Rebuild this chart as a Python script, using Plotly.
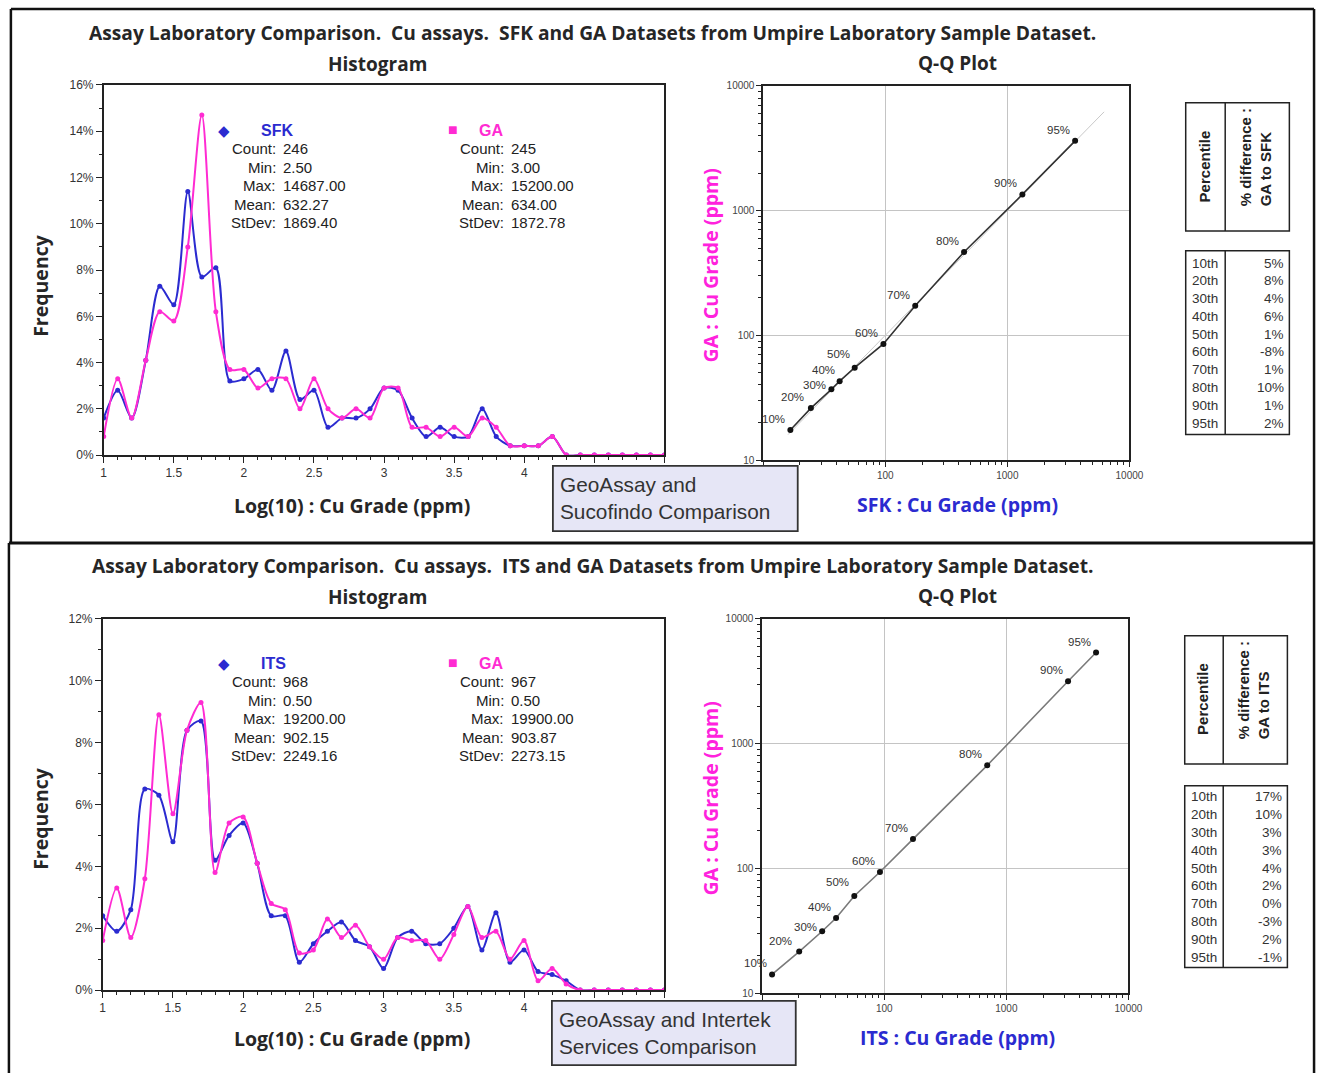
import math
import plotly.graph_objects as go

W, H = 1332, 1080

# ---------------- DATA ----------------
log_bins = [1.0, 1.1, 1.2, 1.3, 1.4, 1.5, 1.6, 1.7, 1.8, 1.9, 2.0, 2.1, 2.2, 2.3, 2.4, 2.5,
            2.6, 2.7, 2.8, 2.9, 3.0, 3.1, 3.2, 3.3, 3.4, 3.5, 3.6, 3.7, 3.8, 3.9, 4.0, 4.1,
            4.2, 4.3, 4.4, 4.5, 4.6, 4.7, 4.8, 4.9, 5.0]

sfk_freq = [1.6, 2.8, 1.6, 4.1, 7.3, 6.5, 11.4, 7.7, 8.1, 3.2, 3.3, 3.7, 2.8, 4.5, 2.4, 2.8,
            1.2, 1.6, 1.6, 2.0, 2.9, 2.8, 1.6, 0.8, 1.2, 0.8, 0.8, 2.0, 0.8, 0.4, 0.4, 0.4,
            0.8, 0, 0, 0, 0, 0, 0, 0, 0]
ga1_freq = [0.8, 3.3, 1.6, 4.1, 6.2, 5.8, 9.0, 14.7, 6.2, 3.7, 3.7, 2.9, 3.3, 3.3, 2.0, 3.3,
            2.0, 1.6, 2.0, 1.6, 2.9, 2.9, 1.2, 1.2, 0.8, 1.2, 0.8, 1.6, 1.2, 0.4, 0.4, 0.4,
            0.8, 0, 0, 0, 0, 0, 0, 0, 0]

its_freq = [2.4, 1.9, 2.6, 6.5, 6.3, 4.8, 8.4, 8.7, 4.2, 5.0, 5.4, 4.1, 2.4, 2.4, 0.9, 1.5,
            1.9, 2.2, 1.6, 1.4, 0.7, 1.7, 1.9, 1.5, 1.5, 2.0, 2.7, 1.3, 2.5, 0.9, 1.3, 0.6,
            0.5, 0.3, 0, 0, 0, 0, 0, 0, 0]
ga2_freq = [1.6, 3.3, 1.7, 3.6, 8.9, 5.7, 8.4, 9.3, 3.8, 5.4, 5.6, 4.1, 2.8, 2.6, 1.2, 1.3,
            2.3, 1.7, 2.1, 1.4, 1.0, 1.7, 1.6, 1.6, 1.0, 1.8, 2.7, 1.7, 1.9, 1.0, 1.6, 0.3,
            0.7, 0.2, 0, 0, 0, 0, 0, 0, 0]

pct_labels = ["10%", "20%", "30%", "40%", "50%", "60%", "70%", "80%", "90%", "95%"]
qq1_sfk = [16.7, 24.6, 36.2, 42.3, 56.2, 96.6, 176, 442, 1328, 3590]
qq1_ga = [17.4, 26.1, 36.9, 42.9, 55.1, 85.3, 173, 466, 1349, 3630]
qq1_diag = [16.0, 6200.0]

qq2_its = [12.05, 20.1, 31.0, 40.3, 56.8, 92.2, 171.9, 697, 3200, 5430]
qq2_ga = [14.1, 21.5, 31.3, 40.0, 60.0, 93.5, 171.7, 670, 3170, 5380]

pctile_rows = ["10th", "20th", "30th", "40th", "50th", "60th", "70th", "80th", "90th", "95th"]
diff_sfk = ["5%", "8%", "4%", "6%", "1%", "-8%", "1%", "10%", "1%", "2%"]
diff_its = ["17%", "10%", "3%", "3%", "4%", "2%", "0%", "-3%", "2%", "-1%"]

stat_labels = ["Count:", "Min:", "Max:", "Mean:", "StDev:"]
sfk_stats = ["246", "2.50", "14687.00", "632.27", "1869.40"]
ga1_stats = ["245", "3.00", "15200.00", "634.00", "1872.78"]
its_stats = ["968", "0.50", "19200.00", "902.15", "2249.16"]
ga2_stats = ["967", "0.50", "19900.00", "903.87", "2273.15"]

hist_xticks = [1, 1.5, 2, 2.5, 3, 3.5, 4, 4.5, 5]
hist_xticktext = ["1", "1.5", "2", "2.5", "3", "3.5", "4", "", ""]
qq_ticks = [10, 100, 1000, 10000]
qq_minor = [20, 30, 40, 50, 60, 70, 80, 90, 200, 300, 400, 500, 600, 700, 800, 900,
            2000, 3000, 4000, 5000, 6000, 7000, 8000, 9000]

# ---------------- STYLE ----------------
BLUE = "#2b2bd0"
PINK = "#ff2bd2"
TITLE_FONT = "Open Sans"
ARIAL = "Liberation Sans"


def px(x):
    return x / W


def py(y):
    return 1 - y / H


fig = go.Figure()

for xa, ya, s1, s2 in [("x", "y", sfk_freq, ga1_freq), ("x3", "y3", its_freq, ga2_freq)]:
    fig.add_trace(go.Scatter(x=log_bins, y=s1, xaxis=xa, yaxis=ya, mode="lines+markers",
                             line=dict(color=BLUE, width=2, shape="spline", smoothing=0.8),
                             marker=dict(color=BLUE, size=5), showlegend=False))
    fig.add_trace(go.Scatter(x=log_bins, y=s2, xaxis=xa, yaxis=ya, mode="lines+markers",
                             line=dict(color=PINK, width=2, shape="spline", smoothing=0.8),
                             marker=dict(color=PINK, size=5), showlegend=False))

fig.add_trace(go.Scatter(x=qq1_diag, y=qq1_diag, xaxis="x2", yaxis="y2", mode="lines",
                         line=dict(color="#c8c8c8", width=1), showlegend=False))
fig.add_trace(go.Scatter(x=qq1_sfk, y=qq1_ga, xaxis="x2", yaxis="y2", mode="lines+markers",
                         line=dict(color="#333333", width=1.6),
                         marker=dict(color="#111111", size=6), showlegend=False))
fig.add_trace(go.Scatter(x=qq2_its, y=qq2_ga, xaxis="x4", yaxis="y4", mode="lines+markers",
                         line=dict(color="#7a7a7a", width=1.6),
                         marker=dict(color="#111111", size=6), showlegend=False))

tickfont = dict(family=ARIAL, size=12, color="#333333")
qqtickfont = dict(family=ARIAL, size=10, color="#444444")


def hist_x(domain, anchor):
    return dict(domain=domain, range=[1, 5], tickmode="array", tickvals=hist_xticks,
                ticktext=hist_xticktext, ticks="outside", ticklen=6, tickcolor="#222",
                showline=True, linecolor="#222", linewidth=1.5, mirror=True, showgrid=False,
                zeroline=False, tickfont=tickfont, anchor=anchor,
                minor=dict(dtick=0.1, ticks="outside", ticklen=3, tickcolor="#222"))


def hist_y(domain, top, anchor):
    return dict(domain=domain, range=[0, top], tickmode="linear", tick0=0, dtick=2,
                ticksuffix="%", ticks="outside", ticklen=6, tickcolor="#222",
                showline=True, linecolor="#222", linewidth=1.5, mirror=True, showgrid=False,
                zeroline=False, tickfont=tickfont, anchor=anchor,
                minor=dict(dtick=1, ticks="outside", ticklen=3, tickcolor="#222"))


def qq_axis(domain, anchor, ticktext):
    return dict(domain=domain, type="log", range=[1, 4], tickmode="array", tickvals=qq_ticks,
                ticktext=ticktext, ticks="outside", ticklen=5, tickcolor="#222",
                showline=True, linecolor="#222", linewidth=1.5, mirror=True,
                showgrid=True, gridcolor="#c4c4c4", gridwidth=1, zeroline=False,
                tickfont=qqtickfont, anchor=anchor,
                minor=dict(tickmode="array", tickvals=qq_minor, ticks="outside", ticklen=3,
                           tickcolor="#222", showgrid=False))


fig.update_layout(
    width=W, height=H, margin=dict(l=0, r=0, t=0, b=0),
    paper_bgcolor="white", plot_bgcolor="white", showlegend=False,
    xaxis=hist_x([px(102), px(670)], "y"),
    yaxis=hist_y([py(454), py(79)], 16, "x"),
    xaxis2=qq_axis([px(770), px(1141)], "y2", ["", "100", "1000", "10000"]),
    yaxis2=qq_axis([py(459), py(80)], "x2", ["10", "100", "1000", "10000"]),
    xaxis3=hist_x([px(101), px(670)], "y3"),
    yaxis3=hist_y([py(996), py(620)], 12, "x3"),
    xaxis4=qq_axis([px(769), px(1140)], "y4", ["", "100", "1000", "10000"]),
    yaxis4=qq_axis([py(999), py(620)], "x4", ["10", "100", "1000", "10000"]),
)

ann = []
shapes = []


def text(t, x, y, size, color="#222222", family=ARIAL, xanchor="center",
         yanchor="middle", angle=0, align="center"):
    ann.append(dict(text=t, x=px(x), y=py(y), xref="paper", yref="paper", showarrow=False,
                    xanchor=xanchor, yanchor=yanchor, textangle=angle, align=align,
                    font=dict(family=family, size=size, color=color)))


def rect(x0, y0, x1, y1, width=1.5, fill=None, color="#222"):
    shapes.append(dict(type="rect", xref="paper", yref="paper", x0=px(x0), x1=px(x1),
                       y0=py(y0), y1=py(y1), line=dict(color=color, width=width),
                       fillcolor=fill if fill else "rgba(0,0,0,0)", layer="above"))


def seg(x0, y0, x1, y1, width=1.5, color="#222"):
    shapes.append(dict(type="line", xref="paper", yref="paper", x0=px(x0), x1=px(x1),
                       y0=py(y0), y1=py(y1), line=dict(color=color, width=width),
                       layer="above"))


# outer panel frames
seg(8, 2, 1328, 2, 2.5, "#111")
seg(8, 2, 8, 543, 2.5, "#111")
seg(1328, 2, 1328, 543, 2.5, "#111")
seg(6, 543, 1328, 543, 3, "#111")
seg(6, 543, 6, 1080, 2.5, "#111")
seg(1328, 543, 1328, 1080, 2.5, "#111")

panels = [
    dict(dy=0, title="Assay Laboratory Comparison.  Cu assays.  SFK and GA Datasets from Umpire Laboratory Sample Dataset.",
         a="SFK", a_stats=sfk_stats, b_stats=ga1_stats, xt="SFK : Cu Grade (ppm)",
         box=["GeoAssay and", "Sucofindo Comparison"], boxrect=(557, 465, 805, 531),
         diffs=diff_sfk, hdr="% difference :<br>GA to SFK"),
    dict(dy=540, title="Assay Laboratory Comparison.  Cu assays.  ITS and GA Datasets from Umpire Laboratory Sample Dataset.",
         a="ITS", a_stats=its_stats, b_stats=ga2_stats, xt="ITS : Cu Grade (ppm)",
         box=["GeoAssay and Intertek", "Services Comparison"], boxrect=(556, 1007, 803, 1072),
         diffs=diff_its, hdr="% difference :<br>GA to ITS"),
]

for i, p in enumerate(panels):
    dy = p["dy"]
    text("<b>" + p["title"] + "</b>", 597, 26 + dy, 19.2, "#262626", TITLE_FONT)
    text("<b>Histogram</b>", 379, 58 + dy, 19, "#262626", TITLE_FONT)
    text("<b>Q-Q Plot</b>", 967, 57 + dy, 19, "#262626", TITLE_FONT)
    text("<b>Log(10) : Cu Grade (ppm)</b>", 354, 505 + dy, 19.5, "#262626", TITLE_FONT)
    text("<b>Frequency</b>", 38, 282 + dy, 19.5, "#262626", TITLE_FONT, angle=-90)
    text("<b>" + p["xt"] + "</b>", 967, 504 + dy, 19.5, BLUE, TITLE_FONT)
    text("<b>GA : Cu Grade (ppm)</b>", 717, 262 + dy, 19.5, "#ff22dd", TITLE_FONT, angle=-90)

    # stats boxes
    text("\u25c6", 224, 125 + dy, 15, BLUE, ARIAL)
    text("<b>" + p["a"] + "</b>", 259, 125 + dy, 16, BLUE, ARIAL, xanchor="left")
    text("\u25a0", 456, 124 + dy, 16, PINK, ARIAL)
    text("<b>GA</b>", 480, 125 + dy, 16, PINK, ARIAL, xanchor="left")
    for k, lab in enumerate(stat_labels):
        yy = 143.5 + k * 18.7 + dy
        text(lab, 279, yy, 15, "#222", ARIAL, xanchor="right")
        text(p["a_stats"][k], 282, yy, 15, "#222", ARIAL, xanchor="left")
        text(lab, 510, yy, 15, "#222", ARIAL, xanchor="right")
        text(p["b_stats"][k], 513, yy, 15, "#222", ARIAL, xanchor="left")

    # comparison label box
    x0, y0, x1, y1 = p["boxrect"]
    rect(x0, y0, x1, y1, width=1.8, fill="#e6e6f6", color="#333")
    text(p["box"][0], x0 + 5, y0 + 19, 20.8, "#333333", ARIAL, xanchor="left")
    text(p["box"][1], x0 + 5, y0 + 46, 20.8, "#333333", ARIAL, xanchor="left")

    # percentile table
    if i == 0:
        hx0, hy0, hx1, hy1, dvx, dtop, dbot, r0, rs = 1198, 97, 1303, 227, 1238, 247, 433, 259.5, 18.0
    else:
        hx0, hy0, hx1, hy1, dvx, dtop, dbot, r0, rs = 1197, 637, 1301, 767, 1236, 789, 973, 800, 18.1
    rect(hx0, hy0, hx1, hy1, width=1.5)
    seg(dvx, hy0, dvx, hy1)
    rect(hx0, dtop, hx1, dbot, width=1.5)
    seg(dvx, dtop, dvx, dbot)
    text("<b>Percentile</b>", (hx0 + dvx) / 2 - 1, hy0 + 64, 15, "#222", ARIAL, angle=-90)
    text("<b>" + p["hdr"] + "</b>", (dvx + hx1) / 2 - 2, hy0 + 55, 15, "#222", ARIAL,
         angle=-90, align="left")
    for k, r in enumerate(pctile_rows):
        yy = r0 + k * rs
        text(r, hx0 + 4, yy, 13.5, "#333", ARIAL, xanchor="left")
        text(p["diffs"][k], hx1 - 3, yy, 13.5, "#333", ARIAL, xanchor="right")

# percent labels on the Q-Q plots (small nudges keep the crowded low labels apart)
label_shift = {"20%": (-5, 3), "30%": (-3, -4), "40%": (-3, 3), "50%": (-3, 6)}
for xs, ys, xa, ya in [(qq1_sfk, qq1_ga, "x2", "y2"), (qq2_its, qq2_ga, "x4", "y4")]:
    for lab, xv, yv in zip(pct_labels, xs, ys):
        xs_, ys_ = label_shift.get(lab, (-3, 3))
        ann.append(dict(text=lab, x=math.log10(xv), y=math.log10(yv), xref=xa, yref=ya,
                        showarrow=False, xanchor="right", yanchor="bottom",
                        xshift=xs_, yshift=ys_,
                        font=dict(family=ARIAL, size=11.5, color="#333")))

fig.update_layout(annotations=ann, shapes=shapes)
fig.write_html("out.html")
